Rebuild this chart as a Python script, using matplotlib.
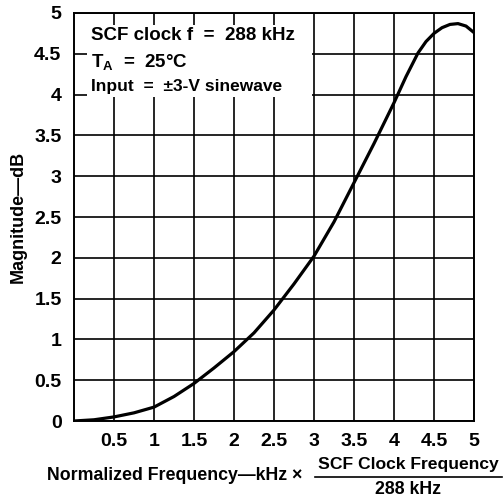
import matplotlib
matplotlib.use("Agg")
import matplotlib.pyplot as plt
from matplotlib.patches import Rectangle
from matplotlib.lines import Line2D

plt.rcParams['font.family'] = ['Liberation Sans', 'DejaVu Sans']
plt.rcParams['font.weight'] = 'bold'
plt.rcParams['mathtext.fontset'] = 'custom'
plt.rcParams['mathtext.rm'] = 'Liberation Sans:bold'
plt.rcParams['mathtext.bf'] = 'Liberation Sans:bold'

# Data
freq = [0.0, 0.25, 0.5, 0.75, 1.0, 1.25, 1.5, 1.75, 2.0, 2.25, 2.5, 2.75,
        3.0, 3.25, 3.5, 3.75, 4.0, 4.15, 4.3, 4.4, 4.5, 4.6, 4.7, 4.8, 4.9, 5.0]
magnitude = [0.0, 0.015, 0.05, 0.1, 0.17, 0.3, 0.46, 0.65, 0.85, 1.08, 1.36, 1.68,
             2.02, 2.44, 2.92, 3.4, 3.9, 4.22, 4.51, 4.65, 4.75, 4.82, 4.86, 4.87, 4.84, 4.76]
xticks = [0.5, 1, 1.5, 2, 2.5, 3, 3.5, 4, 4.5, 5]
xticklabels = ['0.5', '1', '1.5', '2', '2.5', '3', '3.5', '4', '4.5', '5']
yticks = [0, 0.5, 1, 1.5, 2, 2.5, 3, 3.5, 4, 4.5, 5]
yticklabels = ['0', '0.5', '1', '1.5', '2', '2.5', '3', '3.5', '4', '4.5', '5']
note_lines = ['SCF clock f  =  288 kHz', r'$\mathrm{T_A}$  =  25°C', 'Input  =  ±3-V sinewave']

W, H = 503, 497
fig = plt.figure(figsize=(W / 100, H / 100), dpi=100)
ax = fig.add_axes([74 / W, 1 - 421 / H, 400 / W, 408 / H])
ax.set_xlim(0, 5)
ax.set_ylim(0, 5)
ax.set_xticks(xticks)
ax.set_xticklabels(xticklabels)
ax.set_yticks(yticks)
ax.set_yticklabels(yticklabels)
ax.tick_params(length=0, labelsize=14, pad=9)
ax.set_axisbelow(True)
ax.grid(True, color='black', linewidth=1.2)
for s in ax.spines.values():
    s.set_linewidth(1.4)
    s.set_zorder(2.5)

# white area behind the note text
ax.add_patch(Rectangle((13 / 400, (421 - 97) / 408), (312 - 87) / 400, (97 - 25) / 408,
                       transform=ax.transAxes, facecolor='white', edgecolor='none', zorder=1))

ax.plot(freq, magnitude, color='black', linewidth=2.3, zorder=3,
        solid_capstyle='round', solid_joinstyle='round')

ys = [36, 62, 87]
sizes = [13.5, 13.5, 12.5]
for t, yy, fs in zip(note_lines, ys, sizes):
    fig.text(91 / W, 1 - yy / H, t, fontsize=fs, fontweight='bold', va='center', ha='left')

fig.text(18 / W, 1 - 217 / H, 'Magnitude—dB', rotation=90, fontsize=13,
         fontweight='bold', va='center', ha='center')
fig.text(47 / W, 1 - 475 / H, 'Normalized Frequency—kHz ×', fontsize=12.8,
         fontweight='bold', va='center', ha='left')
fig.text(408 / W, 1 - 464 / H, 'SCF Clock Frequency', fontsize=12.6,
         fontweight='bold', va='center', ha='center')
fig.text(408 / W, 1 - 489 / H, '288 kHz', fontsize=12.8,
         fontweight='bold', va='center', ha='center')
fig.add_artist(Line2D([315 / W, 502 / W], [1 - 477 / H, 1 - 477 / H],
                      transform=fig.transFigure, color='black', linewidth=1.2))

fig.savefig('out.png', dpi=100)
